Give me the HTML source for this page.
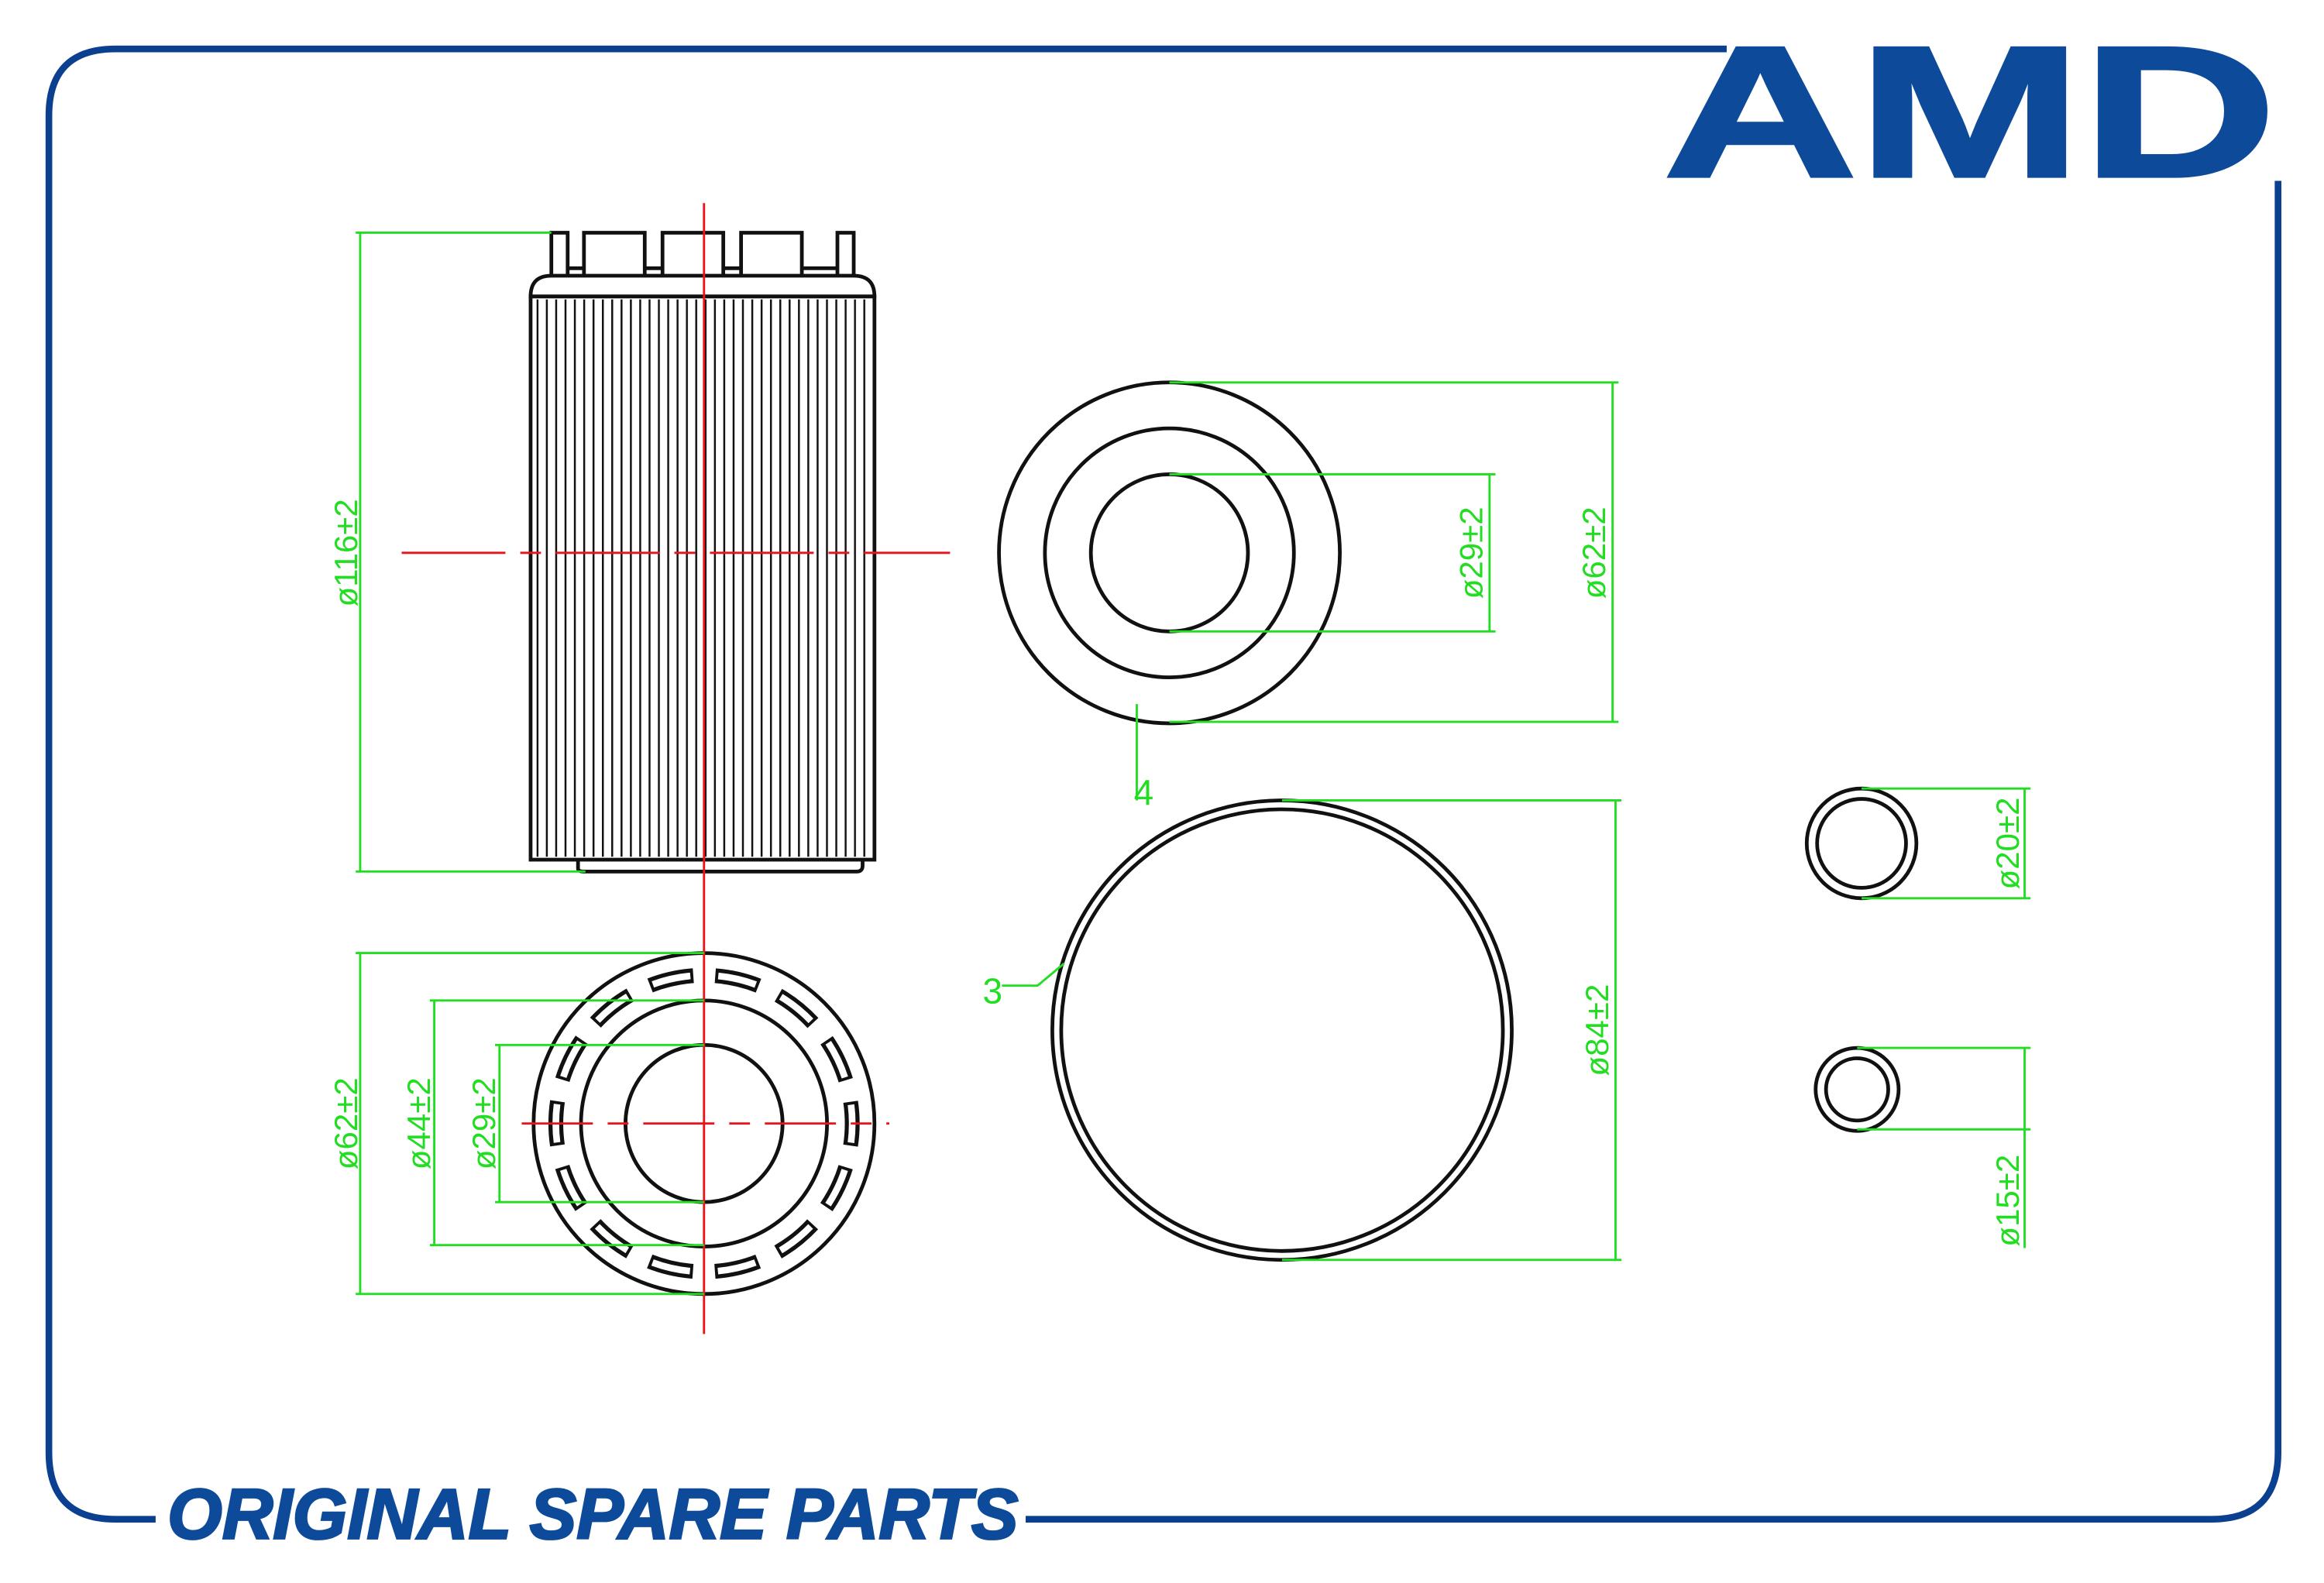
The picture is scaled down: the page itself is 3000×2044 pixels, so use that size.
<!DOCTYPE html>
<html><head><meta charset="utf-8"><style>
html,body{margin:0;padding:0;background:#fff;}
svg{display:block;}
</style></head><body>
<svg width="3000" height="2044" viewBox="0 0 1568 1068" preserveAspectRatio="none" xmlns="http://www.w3.org/2000/svg">
<defs>
<pattern id="pl" x="362" y="0" width="6.3" height="10" patternUnits="userSpaceOnUse">
<rect x="0" y="0" width="1.3" height="10" fill="#111"/>
</pattern>
</defs>
<rect width="1568" height="1068" fill="#fff"/>
<path d="M1165 33 H78 Q33 33 33 78 V980 Q33 1025 78 1025 H105" fill="none" stroke="#0b3f8f" stroke-width="4.5"/>
<path d="M692 1025 H1492 Q1537 1025 1537 980 V122" fill="none" stroke="#0b3f8f" stroke-width="4.5"/>
<text x="1122" y="119" font-family="Liberation Sans, sans-serif" font-weight="bold" font-size="126" fill="#0d4a9a" stroke="#0d4a9a" stroke-width="2" textLength="414" lengthAdjust="spacingAndGlyphs">AMD</text>
<text x="113" y="1038" font-family="Liberation Sans, sans-serif" font-weight="bold" font-style="italic" font-size="48" fill="#0d4a9a" stroke="#0d4a9a" stroke-width="1.5" textLength="574" lengthAdjust="spacingAndGlyphs">ORIGINAL SPARE PARTS</text>

<g fill="none" stroke="#111" stroke-width="2.5">
<path d="M372 186 V157 H383 V186 M394 186 V157 H435 V186 M447 186 V157 H488 V186 M500 186 V157 H541 V186 M565 186 V157 H576 V186"/>
<path d="M383 181 H394 M435 181 H447 M488 181 H500 M541 181 H565"/>
<path d="M358 200 Q358 186 372 186 H576 Q590 186 590 200 Z"/>
<rect x="358" y="200" width="232" height="380"/>
<path d="M390 580 V586 Q390 588 394 588 H578 Q582 588 582 584 V580"/>
</g>
<rect x="362" y="202" width="226" height="376" fill="url(#pl)"/>

<g fill="none" stroke="#111" stroke-width="2.5">
<circle cx="789" cy="373" r="115"/>
<circle cx="789" cy="373" r="84"/>
<circle cx="789" cy="373" r="53"/>
<circle cx="865" cy="695" r="155"/>
<circle cx="865" cy="695" r="149"/>
<circle cx="1256" cy="569" r="37"/>
<circle cx="1256" cy="569" r="30"/>
<circle cx="1253" cy="735" r="28"/>
<circle cx="1253" cy="735" r="21"/>
<circle cx="475" cy="758" r="115"/>
<circle cx="475" cy="758" r="83"/>
<circle cx="475" cy="758" r="53"/>
</g>
<circle cx="475" cy="758" r="100" fill="none" stroke="#111" stroke-width="10" stroke-dasharray="30 14.88" stroke-dashoffset="15"/>
<circle cx="475" cy="758" r="100" fill="none" stroke="#fff" stroke-width="4.5" stroke-dasharray="26 18.88" stroke-dashoffset="13"/>

<g stroke="#e8141c" stroke-width="1.5" fill="none">
<path d="M475 137 V900"/>
<path d="M271 373 H641" stroke-dasharray="70 10 14 10"/>
<path d="M352 758 H600" stroke-dasharray="48 10 14 10"/>
</g>

<g stroke="#22dd22" stroke-width="1.5" fill="none">
<path d="M240 157 H372 M240 588 H395 M243 157 V588"/>
<path d="M789 258 H1092 M789 487 H1092 M1088 258 V487"/>
<path d="M789 320 H1009 M789 426 H1009 M1005 320 V426"/>
<path d="M767 475 V540"/>
<path d="M865 540 H1094 M865 850 H1094 M1090 540 V850"/>
<path d="M676 665 L700 665 L718 650"/>
<path d="M1256 532 H1370 M1256 606 H1370 M1366 532 V606"/>
<path d="M1253 707 H1370 M1253 762 H1370 M1366 707 V842"/>
<path d="M240 643 H475 M240 873 H475 M243 643 V873"/>
<path d="M290 675 H475 M290 840 H475 M293 675 V840"/>
<path d="M334 705 H475 M334 811 H475 M337 705 V811"/>
</g>
<g fill="#22dd22" font-family="Liberation Sans, sans-serif" font-size="22">
<text transform="translate(241,373) rotate(-90)" text-anchor="middle">ø116±2</text>
<text transform="translate(1000,373) rotate(-90)" text-anchor="middle">ø29±2</text>
<text transform="translate(1083,373) rotate(-90)" text-anchor="middle">ø62±2</text>
<text transform="translate(1085,695) rotate(-90)" text-anchor="middle">ø84±2</text>
<text transform="translate(1362,569) rotate(-90)" text-anchor="middle">ø20±2</text>
<text transform="translate(1362,810) rotate(-90)" text-anchor="middle">ø15±2</text>
<text transform="translate(241,758) rotate(-90)" text-anchor="middle">ø62±2</text>
<text transform="translate(290,758) rotate(-90)" text-anchor="middle">ø44±2</text>
<text transform="translate(334,758) rotate(-90)" text-anchor="middle">ø29±2</text>
<text x="765" y="543" font-size="24">4</text>
<text x="663" y="677" font-size="24">3</text>
</g>
</svg>
</body></html>
